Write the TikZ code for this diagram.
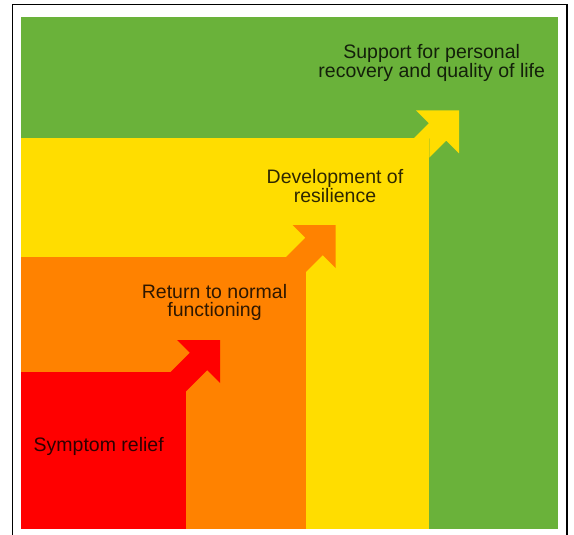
\documentclass[tikz,border=0pt]{standalone}
\usepackage{fontspec}
\setmainfont{Liberation Sans}
\definecolor{cgreen}{RGB}{106,178,58}
\definecolor{cyellow}{RGB}{255,221,0}
\definecolor{corange}{RGB}{255,130,0}
\definecolor{cred}{RGB}{255,0,0}
\tikzset{
  band/.style={fill=#1, draw=none},
  lbl/.style={font=\fontsize{19.5}{17.8}\selectfont, align=center, anchor=base, inner sep=0pt, text=black, text opacity=0.82},
  frameline/.style={draw=black, line width=1.6pt}
}
\begin{document}
\begin{tikzpicture}[x=1pt,y=-1pt]
\useasboundingbox (0,0) rectangle (574,535);
\fill[white] (0,0) rectangle (574,535);
% frame
\draw[frameline] (12.5,540) -- (12.5,4.7) -- (566.7,4.7) -- (566.7,540);
% green background
\path[band=cgreen] (21.3,16.7) rectangle (558.3,529.3);
% yellow
\path[band=cyellow] (21.3,138.3) rectangle (429.3,529.3);
\path[band=cyellow] (413.8,138.3) -- (428.8,123.3) -- (416,110.5) -- (459,110.5) -- (459,153.5) -- (446.2,140.7) -- (429.3,157.6) -- (429.3,138.3) -- cycle;
% orange
\path[band=corange] (21.3,257) rectangle (305.7,529.3);
\path[band=corange] (286.1,257) -- (305.3,237.8) -- (292.5,225) -- (335.5,225) -- (335.5,268) -- (322.7,255.2) -- (305.7,272.2) -- (305.7,257) -- cycle;
% red
\path[band=cred] (21.3,372) rectangle (185.7,529.3);
\path[band=cred] (170.6,372) -- (189.8,352.8) -- (177,340) -- (220,340) -- (220,383) -- (207.2,370.2) -- (185.7,391.7) -- (185.7,372) -- cycle;
% labels (anchor base = baseline of last line)
\node[lbl] (t1) at (98.7,451.7) {Symptom relief};
\node[lbl] (t2) at (214.5,316) {Return to normal\\functioning};
\node[lbl] (t3) at (335,202.5) {Development of\\resilience};
\node[lbl] (t4) at (431.7,78) {Support for personal\\recovery and quality of life};
\end{tikzpicture}
\end{document}
